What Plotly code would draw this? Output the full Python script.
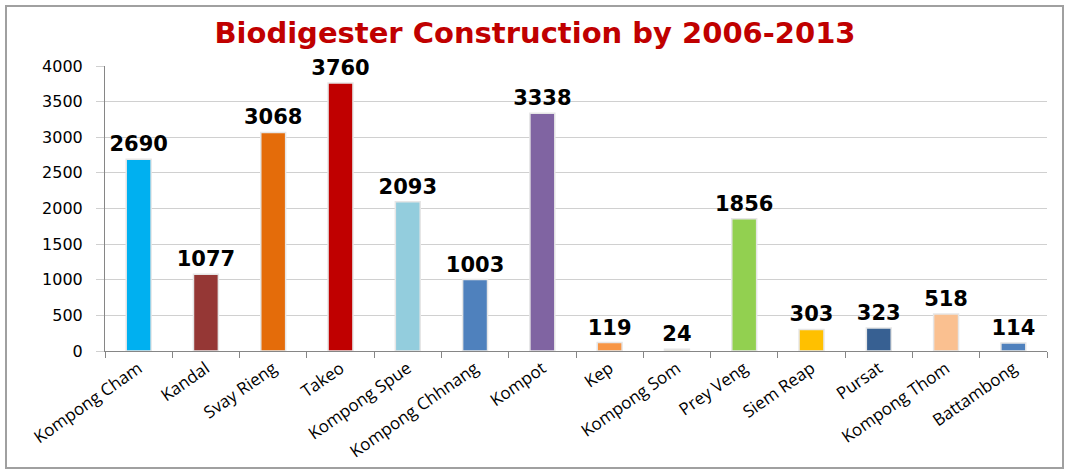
import plotly.graph_objects as go

provinces = ["Kompong Cham", "Kandal", "Svay Rieng", "Takeo", "Kompong Spue",
             "Kompong Chhnang", "Kompot", "Kep", "Kompong Som", "Prey Veng",
             "Siem Reap", "Pursat", "Kompong Thom", "Battambong"]
units_built = [2690, 1077, 3068, 3760, 2093, 1003, 3338, 119, 24, 1856, 303, 323, 518, 114]
bar_colors = ["#00B0F0", "#953735", "#E46C0A", "#C00000", "#93CDDD", "#4F81BD", "#8064A2",
              "#F79646", "#DDD9C3", "#92D050", "#FFC000", "#376092", "#FAC090", "#4F81BD"]

fig = go.Figure(go.Bar(
    x=provinces,
    y=units_built,
    marker=dict(color=bar_colors, line=dict(color="#E6E6E6", width=1.5)),
    text=units_built,
    textposition="outside",
    constraintext="none",
    cliponaxis=False,
    textfont=dict(family="DejaVu Sans", size=21, color="black"),
    texttemplate="<b>%{text}</b>",
))

fig.update_layout(
    width=1070, height=470,
    margin=dict(l=105, r=23, t=66, b=119),
    paper_bgcolor="white", plot_bgcolor="white",
    title=dict(text="<b>Biodigester Construction by 2006-2013</b>",
               font=dict(family="DejaVu Sans", size=29, color="#C00000"),
               x=0.5, xanchor="center", y=0.93, yanchor="middle"),
    bargap=0.63,
    showlegend=False,
    xaxis=dict(tickangle=-35, tickson="boundaries", ticks="outside", ticklen=6,
               tickcolor="#868686", showline=True, linecolor="#868686", automargin=False,
               tickfont=dict(family="Open Sans", size=17, color="black")),
    yaxis=dict(range=[0, 4000], dtick=500, showgrid=True, gridcolor="#D0D0D0",
               ticks="outside", ticklen=8, tickcolor="#D0D0D0", automargin=False,
               ticklabelstandoff=10,
               showline=True, linecolor="#868686", zeroline=False,
               tickfont=dict(family="DejaVu Sans", size=16, color="black")),
)

# outer chart frame
fig.add_shape(type="rect", xref="paper", yref="paper",
              x0=-99 / 942, x1=1 + 16 / 942, y0=-117 / 285, y1=1 + 60 / 285,
              line=dict(color="#A0A0A0", width=2), fillcolor="rgba(0,0,0,0)")

fig.write_html("out.html", config={"displayModeBar": False},
               post_script="document.body.style.margin='0';")
